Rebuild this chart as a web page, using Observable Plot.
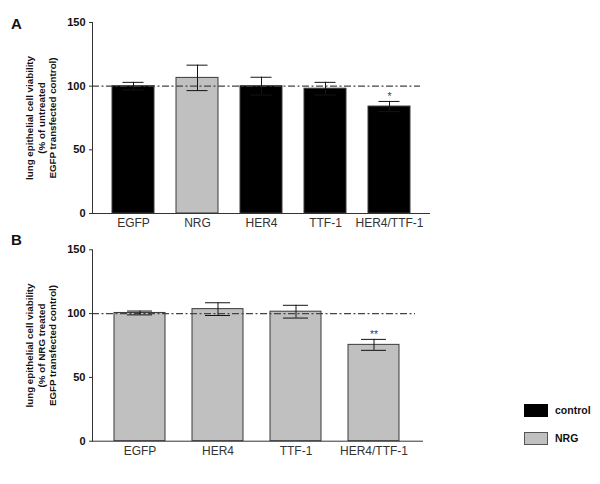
<!DOCTYPE html>
<html>
<head>
<meta charset="utf-8">
<script src="https://cdn.jsdelivr.net/npm/d3@7"></script>
<script src="https://cdn.jsdelivr.net/npm/@observablehq/plot@0.6"></script>
<style>
  html, body { margin: 0; padding: 0; background: #fff; }
  #wrap { position: relative; width: 600px; height: 484px; overflow: hidden;
          font-family: 'Liberation Sans', Arial, Helvetica, sans-serif; }
  .abs { position: absolute; }
  .letter { font-weight: bold; font-size: 15px; color: #111; }
  .legbox { position: absolute; width: 24px; height: 13px; box-sizing: border-box; }
  .legtxt { position: absolute; font-weight: bold; font-size: 10.5px; color: #111; line-height: 13px; }
</style>
</head>
<body>
<div id="wrap">
  <div class="abs letter" style="left:11px;top:15px;">A</div>
  <div class="abs letter" style="left:11px;top:231px;">B</div>
  <div id="pa" class="abs" style="left:0;top:0;"></div>
  <div id="pb" class="abs" style="left:0;top:230px;"></div>
  <div class="legbox" style="left:524px;top:404px;background:#000;"></div>
  <div class="legtxt" style="left:555px;top:404px;">control</div>
  <div class="legbox" style="left:524px;top:432px;background:#c0c0c0;border:1px solid #555;"></div>
  <div class="legtxt" style="left:555px;top:432px;">NRG</div>
</div>
<script>
// ---- Data ----
const categoriesA = ["EGFP", "NRG", "HER4", "TTF-1", "HER4/TTF-1"];
const meansA      = [100, 106.5, 100, 98, 84];
const errorsA     = [3, 10, 7, 5, 4];
const groupsA     = ["control", "NRG", "control", "control", "control"];
const signifA     = ["", "", "", "", "*"];

const categoriesB = ["EGFP", "HER4", "TTF-1", "HER4/TTF-1"];
const meansB      = [100.5, 103.5, 101.5, 75.5];
const errorsB     = [1.5, 5, 5, 4.3];
const groupsB     = ["NRG", "NRG", "NRG", "NRG"];
const signifB     = ["", "", "", "**"];

const yTicks = [0, 50, 100, 150];
const refLine = [100];
const labelA = "lung epithelial cell viability\n(% of untreated\nEGFP transfected control)";
const labelB = "lung epithelial cell viability\n(% of NRG treated\nEGFP transfected control)";
const legendGroups = ["control", "NRG"];
const legendColors = ["#000000", "#c0c0c0"];

const fontFamily = "'Liberation Sans', Arial, Helvetica, sans-serif";

function rowsOf(cats, means, errs, groups, sig) {
  return cats.map((c, i) => ({
    cat: c, mean: means[i], lo: means[i] - errs[i], hi: means[i] + errs[i],
    group: groups[i], sig: sig[i]
  }));
}

function panel(rows, cats, label, o) {
  const errColor = "#141414";
  return Plot.plot({
    width: 600,
    height: o.height,
    marginLeft: 92,
    marginRight: o.marginRight,
    marginTop: o.marginTop,
    marginBottom: o.marginBottom,
    style: { fontFamily, background: "transparent", overflow: "visible" },
    x: { type: "band", domain: cats, range: o.xRange, paddingInner: o.pi, paddingOuter: o.pi / 2 },
    y: { domain: [0, 150] },
    color: { domain: legendGroups, range: legendColors },
    marks: [
      Plot.barY(rows, { x: "cat", y: "mean", fill: "group", stroke: "#3a3a3a", strokeWidth: 1 }),
      Plot.ruleY(refLine, { stroke: "#444", strokeWidth: 1.2, strokeDasharray: "7,2.5,2,2.5", insetRight: o.refInset }),
      Plot.ruleX(rows, { x: "cat", y1: "lo", y2: "hi", stroke: errColor, strokeWidth: 1 }),
      Plot.tickY(rows, { x: "cat", y: "hi", stroke: errColor, strokeWidth: 1, insetLeft: o.cap, insetRight: o.cap }),
      Plot.tickY(rows, { x: "cat", y: "lo", stroke: errColor, strokeWidth: 1, insetLeft: o.cap, insetRight: o.cap }),
      Plot.text(rows, { x: "cat", y: "hi", text: "sig", lineAnchor: "bottom", dy: -1, fontSize: 10.5, fill: "#444" }),
      Plot.ruleY([0], { stroke: "#333", strokeWidth: 1 }),
      Plot.frame({ anchor: "left", stroke: "#333", strokeWidth: 1 }),
      Plot.axisY({ ticks: yTicks, tickSize: 3, tickPadding: 4, fontSize: 11, fontWeight: "bold", fill: "#111", stroke: "#333", label: null }),
      Plot.axisX({ tickSize: 0, tickPadding: 5, fontSize: 12, fill: "#333", label: null }),
      Plot.text([label], { text: d => d, frameAnchor: "left", rotate: -90, textAnchor: "middle", lineAnchor: "middle",
        lineHeight: 1.15, dx: -51.5, fontSize: 9.8, fontWeight: "bold", fill: "#111" })
    ]
  });
}

const rowsA = rowsOf(categoriesA, meansA, errorsA, groupsA, signifA);
const rowsB = rowsOf(categoriesB, meansB, errorsB, groupsB, signifB);

document.getElementById("pa").appendChild(panel(rowsA, categoriesA, labelA, {
  height: 232, marginTop: 22, marginBottom: 19, marginRight: 170,
  xRange: [99.75, 422.25], pi: 0.35, cap: 10.5, refInset: 10
}));
document.getElementById("pb").appendChild(panel(rowsB, categoriesB, labelB, {
  height: 254, marginTop: 19.3, marginBottom: 43.3, marginRight: 177,
  xRange: [99.6, 414.8], pi: 0.34, cap: 13, refInset: 8
}));
</script>
</body>
</html>
